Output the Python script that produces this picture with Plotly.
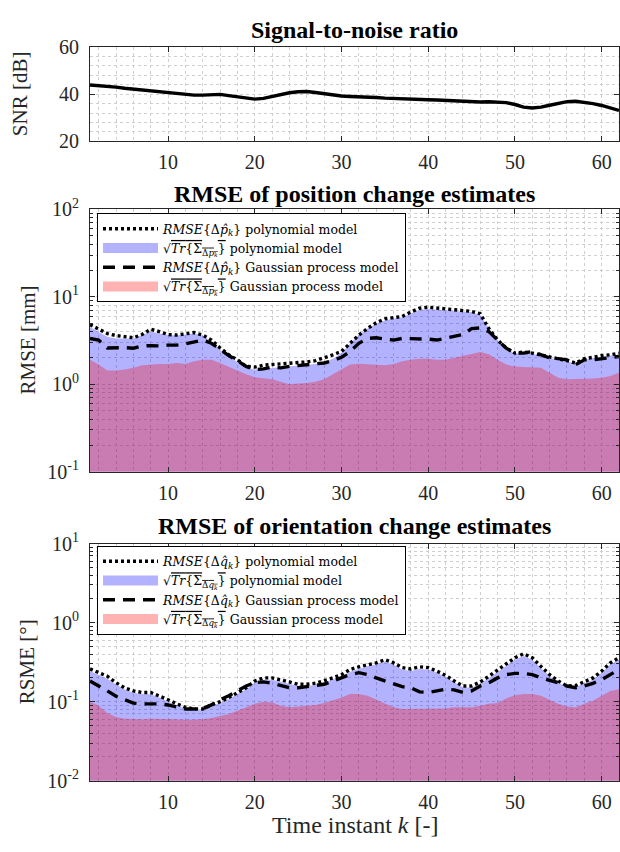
import plotly.graph_objects as go

k = list(range(1, 63))

snr_db = [43.9, 43.7, 43.4, 43.0, 42.5, 42.1, 41.8, 41.5, 41.1, 40.7,
          40.3, 39.9, 39.6, 39.6, 39.7, 39.9, 39.4, 38.8, 38.3, 37.9,
          38.2, 39.1, 40.0, 40.6, 41.0, 41.1, 40.7, 40.1, 39.6, 39.2,
          39.0, 38.9, 38.9, 38.6, 38.3, 38.1, 37.9, 37.8, 37.7, 37.6,
          37.5, 37.3, 37.1, 36.9, 36.7, 36.7, 36.8, 36.7, 36.4, 35.6,
          34.5, 34.1, 34.5, 35.3, 36.1, 36.8, 37.0, 36.6, 36.0, 35.2,
          34.2, 33.1]

pos_rmse_poly = [4.8, 4.3, 3.8, 3.6, 3.5, 3.4, 3.7, 4.25, 4.0, 3.7,
                 3.65, 3.8, 3.9, 3.65, 3.2, 2.6, 2.17, 1.9, 1.6, 1.57,
                 1.65, 1.68, 1.7, 1.72, 1.75, 1.8, 1.86, 2.0, 2.17, 2.37,
                 2.94, 3.65, 4.33, 5.05, 5.6, 5.75, 5.95, 6.7, 7.4, 7.6,
                 7.4, 7.3, 7.1, 6.9, 6.8, 6.4, 4.3, 3.2, 2.6, 2.27,
                 2.33, 2.27, 2.17, 2.03, 1.96, 1.86, 1.75, 1.96, 2.03, 2.13,
                 2.17, 2.27]
pos_std_poly = [4.5, 4.0, 3.5, 3.34, 3.34, 3.34, 3.65, 4.0, 3.8, 3.65,
                3.6, 3.7, 3.8, 3.6, 3.07, 2.47, 2.08, 1.8, 1.54, 1.47,
                1.5, 1.54, 1.57, 1.6, 1.63, 1.65, 1.7, 1.8, 1.96, 2.27,
                2.94, 3.65, 4.33, 4.93, 5.37, 5.6, 5.85, 6.4, 7.1, 7.25,
                7.1, 7.0, 6.9, 6.8, 6.65, 6.2, 4.33, 3.2, 2.58, 2.23,
                2.27, 2.23, 2.13, 2.0, 1.9, 1.83, 1.72, 1.9, 2.0, 2.08,
                2.13, 2.17]
pos_rmse_gp = [3.34, 3.2, 2.6, 2.62, 2.62, 2.58, 2.74, 2.76, 2.74, 2.8,
               2.8, 2.9, 3.07, 3.2, 2.94, 2.5, 2.13, 1.86, 1.6, 1.47,
               1.5, 1.57, 1.54, 1.6, 1.63, 1.65, 1.68, 1.75, 1.86, 2.03,
               2.37, 2.94, 3.34, 3.4, 3.28, 3.2, 3.34, 3.34, 3.34, 3.28,
               3.2, 3.34, 3.5, 3.7, 4.33, 4.4, 4.0, 3.2, 2.58, 2.27,
               2.27, 2.37, 2.17, 2.0, 1.96, 1.9, 1.68, 1.9, 1.9, 1.96,
               2.03, 2.08]
pos_std_gp = [1.9, 1.68, 1.44, 1.44, 1.47, 1.54, 1.65, 1.68, 1.7, 1.7,
              1.75, 1.7, 1.83, 1.9, 1.9, 1.75, 1.6, 1.44, 1.3, 1.2,
              1.17, 1.14, 1.07, 1.0, 1.02, 1.03, 1.07, 1.14, 1.3, 1.47,
              1.68, 1.72, 1.7, 1.68, 1.65, 1.7, 1.83, 1.9, 1.96, 1.96,
              1.9, 1.9, 2.0, 2.08, 2.2, 2.33, 2.2, 1.9, 1.68, 1.6,
              1.57, 1.54, 1.54, 1.35, 1.19, 1.14, 1.14, 1.14, 1.16, 1.19,
              1.24, 1.35]

ori_rmse_poly = [0.26, 0.233, 0.21, 0.174, 0.15, 0.137, 0.131, 0.131, 0.119, 0.106,
                 0.094, 0.085, 0.081, 0.081, 0.091, 0.1, 0.113, 0.131, 0.15, 0.183,
                 0.2, 0.2, 0.19, 0.178, 0.166, 0.166, 0.171, 0.183, 0.2, 0.22,
                 0.256, 0.276, 0.295, 0.31, 0.34, 0.31, 0.27, 0.26, 0.276, 0.27,
                 0.244, 0.215, 0.183, 0.158, 0.158, 0.178, 0.21, 0.25, 0.30, 0.36,
                 0.405, 0.36, 0.28, 0.22, 0.183, 0.158, 0.16, 0.178, 0.2, 0.244,
                 0.31, 0.36]
ori_std_poly = [0.245, 0.22, 0.195, 0.165, 0.143, 0.13, 0.125, 0.124, 0.113, 0.1,
                0.09, 0.082, 0.078, 0.078, 0.087, 0.096, 0.108, 0.125, 0.143, 0.175,
                0.19, 0.19, 0.18, 0.168, 0.158, 0.158, 0.163, 0.175, 0.19, 0.21,
                0.24, 0.26, 0.28, 0.295, 0.32, 0.295, 0.255, 0.245, 0.26, 0.255,
                0.232, 0.205, 0.175, 0.152, 0.15, 0.17, 0.2, 0.238, 0.285, 0.34,
                0.38, 0.34, 0.265, 0.21, 0.175, 0.152, 0.153, 0.17, 0.19, 0.232,
                0.295, 0.34]
ori_rmse_gp = [0.183, 0.16, 0.137, 0.117, 0.106, 0.096, 0.094, 0.094, 0.094, 0.091,
               0.085, 0.081, 0.081, 0.082, 0.091, 0.106, 0.119, 0.137, 0.158, 0.174,
               0.178, 0.171, 0.16, 0.15, 0.15, 0.155, 0.158, 0.166, 0.183, 0.2,
               0.22, 0.233, 0.22, 0.2, 0.183, 0.166, 0.155, 0.15, 0.133, 0.131,
               0.137, 0.144, 0.141, 0.131, 0.137, 0.158, 0.174, 0.2, 0.22, 0.228,
               0.228, 0.22, 0.2, 0.188, 0.174, 0.158, 0.15, 0.158, 0.171, 0.19,
               0.22, 0.256]
ori_std_gp = [0.1, 0.089, 0.072, 0.064, 0.061, 0.06, 0.06, 0.061, 0.061, 0.061,
              0.06, 0.059, 0.059, 0.06, 0.062, 0.066, 0.07, 0.077, 0.085, 0.094,
              0.1, 0.098, 0.089, 0.085, 0.087, 0.089, 0.091, 0.096, 0.103, 0.113,
              0.125, 0.125, 0.119, 0.106, 0.096, 0.085, 0.081, 0.081, 0.081, 0.081,
              0.082, 0.082, 0.085, 0.085, 0.085, 0.089, 0.094, 0.096, 0.11, 0.121,
              0.125, 0.125, 0.119, 0.106, 0.094, 0.087, 0.085, 0.094, 0.103, 0.119,
              0.137, 0.144]

titles = ["<b>Signal-to-noise ratio</b>",
          "<b>RMSE of position change estimates</b>",
          "<b>RMSE of orientation change estimates</b>"]
ylabels = ["SNR [dB]", "RMSE [mm]", "RSME [\u00b0]"]
xlabel = "Time instant <i>k</i> [-]"
x_ticks = [10, 20, 30, 40, 50, 60]

FONT = "Liberation Serif"
LEGFONT = "DejaVu Serif"
W, H = 620, 852
BLUE = "rgba(0,0,255,0.3)"
RED = "rgba(255,0,0,0.3)"
AX = "#262626"
GRID = "#cfcfcf"

xl, xr = 90 / W, 619 / W
doms = [(35, 132), (202, 472), (546, 790)]
ydom = [[1 - b / H, 1 - t / H] for t, b in doms]

fig = go.Figure()

fig.add_trace(go.Scatter(x=k, y=snr_db, mode="lines", line=dict(color="black", width=3.4),
                         showlegend=False, xaxis="x", yaxis="y"))


def add_block(xa, ya, leg, rmse_poly, std_poly, rmse_gp, std_gp, sym):
    hat = f"\u0394<i>{sym}\u0302</i><sub><i>k</i></sub>"
    sig = f"\u03a3<sub>\u0394<i>{sym}</i><sub><i>k</i></sub></sub>"
    tr = f"\u221a<span style='text-decoration:overline'><i>Tr</i>{{{sig}}}</span>"
    names = [f"<i>RMSE</i>{{{hat}}} polynomial model",
             f"{tr} polynomial model",
             f"<i>RMSE</i>{{{hat}}} Gaussian process model",
             f"{tr} Gaussian process model"]
    fig.add_trace(go.Scatter(x=k, y=std_poly, mode="lines", fill="tozeroy", fillcolor=BLUE,
                             line=dict(width=0, color=BLUE), showlegend=False,
                             xaxis=xa, yaxis=ya, hoverinfo="skip"))
    fig.add_trace(go.Scatter(x=k, y=std_gp, mode="lines", fill="tozeroy", fillcolor=RED,
                             line=dict(width=0, color=RED), showlegend=False,
                             xaxis=xa, yaxis=ya, hoverinfo="skip"))
    fig.add_trace(go.Scatter(x=k, y=rmse_poly, mode="lines",
                             line=dict(color="black", width=3.4, dash="3px,3px"),
                             legendrank=1, legend=leg, name=names[0], xaxis=xa, yaxis=ya))
    fig.add_trace(go.Scatter(x=k, y=rmse_gp, mode="lines",
                             line=dict(color="black", width=3.4, dash="12px,8px"),
                             legendrank=3, legend=leg, name=names[2], xaxis=xa, yaxis=ya))
    fig.add_trace(go.Scatter(x=[None], y=[None], mode="lines", line=dict(color=BLUE, width=13),
                             legendrank=2, legend=leg, name=names[1], xaxis=xa, yaxis=ya))
    fig.add_trace(go.Scatter(x=[None], y=[None], mode="lines", line=dict(color=RED, width=13),
                             legendrank=4, legend=leg, name=names[3], xaxis=xa, yaxis=ya))


add_block("x2", "y2", "legend", pos_rmse_poly, pos_std_poly, pos_rmse_gp, pos_std_gp, "p")
add_block("x3", "y3", "legend2", ori_rmse_poly, ori_std_poly, ori_rmse_gp, ori_std_gp, "q")

xcommon = dict(range=[1, 62], tickvals=x_ticks, ticks="inside", ticklen=5, tickcolor=AX,
               showline=True, linecolor=AX, linewidth=1, mirror="allticks",
               showgrid=True, gridcolor=GRID, griddash="dot", gridwidth=1,
               minor=dict(dtick=2, tick0=0, showgrid=True, gridcolor=GRID, griddash="dot", ticks=""),
               tickfont=dict(family=FONT, size=20, color=AX), ticklabelstandoff=3, zeroline=False,
               domain=[xl, xr], layer="above traces")

fig.update_layout(
    xaxis=dict(**xcommon, anchor="y"),
    xaxis2=dict(**xcommon, anchor="y2"),
    xaxis3=dict(**xcommon, anchor="y3"),
)


def logaxis(lo, hi, dom, anchor):
    vals = [10 ** e for e in range(lo, hi + 1)]
    texts = [f"10<sup>{e}</sup>" for e in range(lo, hi + 1)]
    minors = [m * 10 ** e for e in range(lo, hi) for m in range(2, 10)]
    return dict(type="log", range=[lo, hi], tickvals=vals, ticktext=texts, domain=dom, anchor=anchor,
                ticks="inside", ticklen=5, tickcolor=AX, showline=True, linecolor=AX, linewidth=1,
                mirror="allticks", showgrid=True, gridcolor=GRID, griddash="dot",
                minor=dict(tickvals=minors, ticks="inside", ticklen=3, tickcolor=AX,
                           showgrid=True, gridcolor=GRID, griddash="dot"),
                tickfont=dict(family=FONT, size=20, color=AX), ticklabelstandoff=6,
                zeroline=False, layer="above traces")


fig.update_layout(
    yaxis=dict(range=[20, 60], tickvals=[20, 40, 60], domain=ydom[0], anchor="x",
               ticks="inside", ticklen=5, tickcolor=AX, showline=True, linecolor=AX, linewidth=1,
               mirror="allticks", showgrid=True, gridcolor=GRID, griddash="dot",
               minor=dict(dtick=4, tick0=0, showgrid=True, gridcolor=GRID, griddash="dot", ticks=""),
               tickfont=dict(family=FONT, size=20, color=AX), ticklabelstandoff=6,
               zeroline=False, layer="above traces"),
    yaxis2=logaxis(-1, 2, ydom[1], "x2"),
    yaxis3=logaxis(-2, 1, ydom[2], "x3"),
)

legfont = dict(family=LEGFONT, size=12.5, color="black")
common_leg = dict(xanchor="left", yanchor="top", bgcolor="white", bordercolor="black",
                  borderwidth=1, font=legfont, itemwidth=55, tracegroupgap=0,
                  traceorder="normal")
fig.update_layout(
    legend=dict(x=97 / W, y=1 - 206 / H, **common_leg),
    legend2=dict(x=97 / W, y=1 - 548 / H, **common_leg),
)

ann = []
for t, ypx in zip(titles, [18, 186, 528]):
    ann.append(dict(text=t, x=(90 + 619) / 2 / W, y=1 - ypx / H, xref="paper", yref="paper",
                    xanchor="center", yanchor="middle", showarrow=False,
                    font=dict(family=FONT, size=24, color="black")))
for lab, xpx, (t, b) in zip(ylabels, [20, 28, 27], doms):
    ann.append(dict(text=lab, x=xpx / W, y=1 - (t + b) / 2 / H, xref="paper", yref="paper",
                    xanchor="center", yanchor="middle", showarrow=False, textangle=-90,
                    font=dict(family=FONT, size=21, color=AX)))
ann.append(dict(text=xlabel, x=(90 + 619) / 2 / W, y=1 - 836 / H, xref="paper", yref="paper",
                xanchor="center", yanchor="middle", showarrow=False,
                font=dict(family=FONT, size=24, color=AX)))

fig.update_layout(annotations=ann, width=W, height=H, margin=dict(l=0, r=0, t=0, b=0),
                  paper_bgcolor="white", plot_bgcolor="white", showlegend=True)

fig.write_html("out.html")
